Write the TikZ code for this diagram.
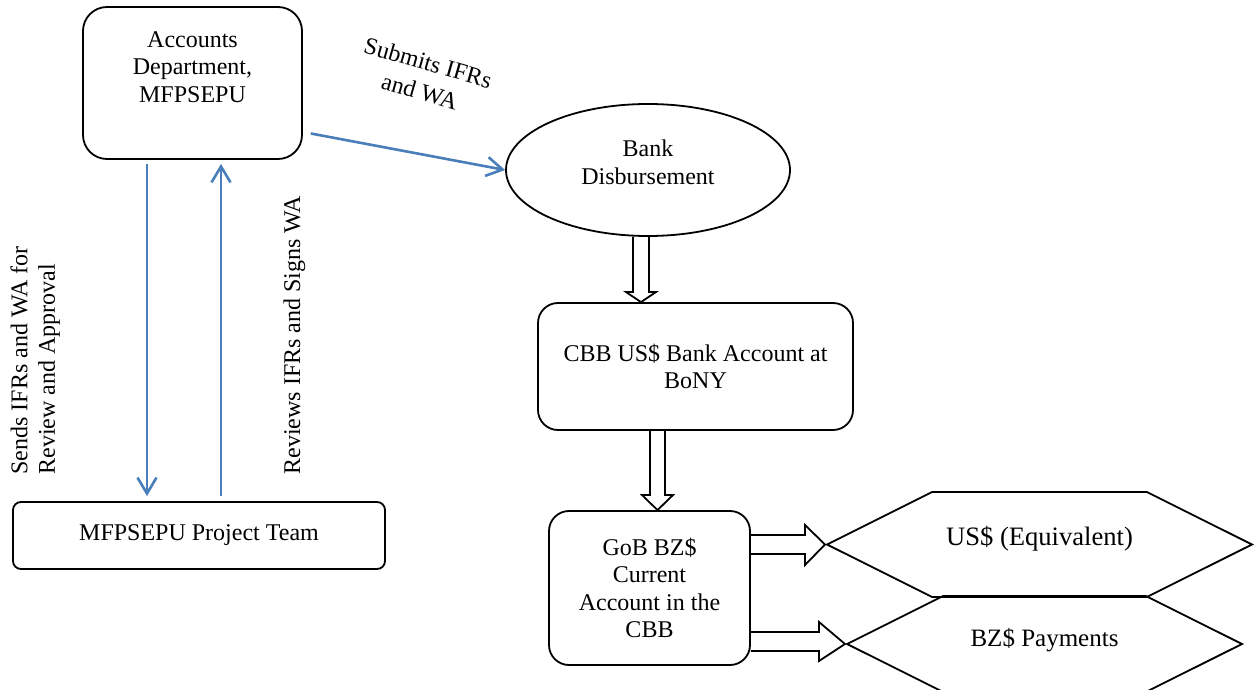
\documentclass[tikz,border=0pt]{standalone}
\usepackage{fontspec}
\setmainfont{Liberation Serif}
\usepackage{tikz}
\usetikzlibrary{calc,arrows.meta,shapes.geometric,shapes.symbols}
\definecolor{flowblue}{HTML}{4A7EBB}
\tikzset{
  box/.style={draw=black, line width=0.9pt, align=center, inner sep=0pt, font=\fontsize{12}{13.8}\selectfont},
  oval/.style={box, ellipse},
  hexa/.style={box, signal, signal to=east and west, signal pointer angle=53.1},
  flow/.style={draw=flowblue, line width=1.3pt, -{Straight Barb[length=8pt,width=9.5pt]}},
  blk/.style={draw=black, line width=0.9pt, line join=miter},
  lab/.style={font=\fontsize{12}{13.8}\selectfont, inner sep=0pt},
}
\begin{document}
\begin{tikzpicture}[x=0.5pt,y=-0.5pt]
  \useasboundingbox (0,0) rectangle (1254,690);
  \clip (0,0) rectangle (1254,690);
  \node[box, rounded corners=12pt, minimum width=109.5pt, minimum height=76pt, text depth=16pt] (acc) at (192.5,83) {Accounts\\Department,\\MFPSEPU};
  \node[box, rounded corners=4pt, minimum width=186pt, minimum height=33.5pt] (team) at (199,535.5) {MFPSEPU Project Team};
  \node[oval, minimum width=142pt, minimum height=66pt, text depth=8pt] (bank) at (648,170) {Bank\\Disbursement};
  \node[box, rounded corners=10pt, minimum width=157.5pt, minimum height=63.5pt] (cbb) at (695.5,366.5) {CBB US\$ Bank Account at\\BoNY};
  \node[box, rounded corners=10pt, minimum width=100.5pt, minimum height=77pt] (gob) at (649.5,588) {GoB BZ\$\\Current\\Account in the\\CBB};
  \node[hexa, minimum width=212.5pt, minimum height=52.5pt, text depth=9pt, font=\fontsize{13.3}{15}\selectfont] (usd) at (1039.5,544.5) {US\$ (Equivalent)};
  \node[hexa, minimum width=197.5pt, minimum height=48pt, text depth=6.5pt, font=\fontsize{12.5}{14}\selectfont] (bzd) at (1044.5,644) {BZ\$ Payments};
  \node[lab, rotate=90, align=left, anchor=north west] (sendL) at (10,475) {Sends IFRs and WA for\\Review and Approval};
  \node[lab, rotate=90, anchor=north west] (revL) at (283,475) {Reviews IFRs and Signs WA};
  \node[lab, rotate=-16, align=center, font=\fontsize{12}{14.9}\selectfont] (subL) at (424,77) {Submits IFRs\\and WA};
  \draw[flow, shorten <=2pt, shorten >=2.5pt] (147,0 |- acc.south) -- (147,0 |- team.north);
  \draw[flow, shorten <=2.5pt, shorten >=2pt] (221,0 |- team.north) -- (221,0 |- acc.south);
  \draw[flow, shorten <=4pt] (acc.east |- 0,132) -- (bank.west);
  \draw[blk] (633,0 |- bank.south) -- (633,292) -- (626,292) -- (641,0 |- cbb.north) -- (656,292) -- (649,292) -- (649,0 |- bank.south);
  \draw[blk] (650,0 |- cbb.south) -- (650,495) -- (642,495) -- (657.5,0 |- gob.north) -- (673,495) -- (665,495) -- (665,0 |- cbb.south);
  \draw[blk] (gob.east |- 0,535) -- (805,535) -- (805,525) -- (usd.west) -- (805,565) -- (805,554) -- (gob.east |- 0,554);
  \draw[blk] (gob.east |- 0,632) -- (819,632) -- (819,622) -- (bzd.west) -- (819,661) -- (819,651) -- (gob.east |- 0,651);
\end{tikzpicture}
\end{document}
